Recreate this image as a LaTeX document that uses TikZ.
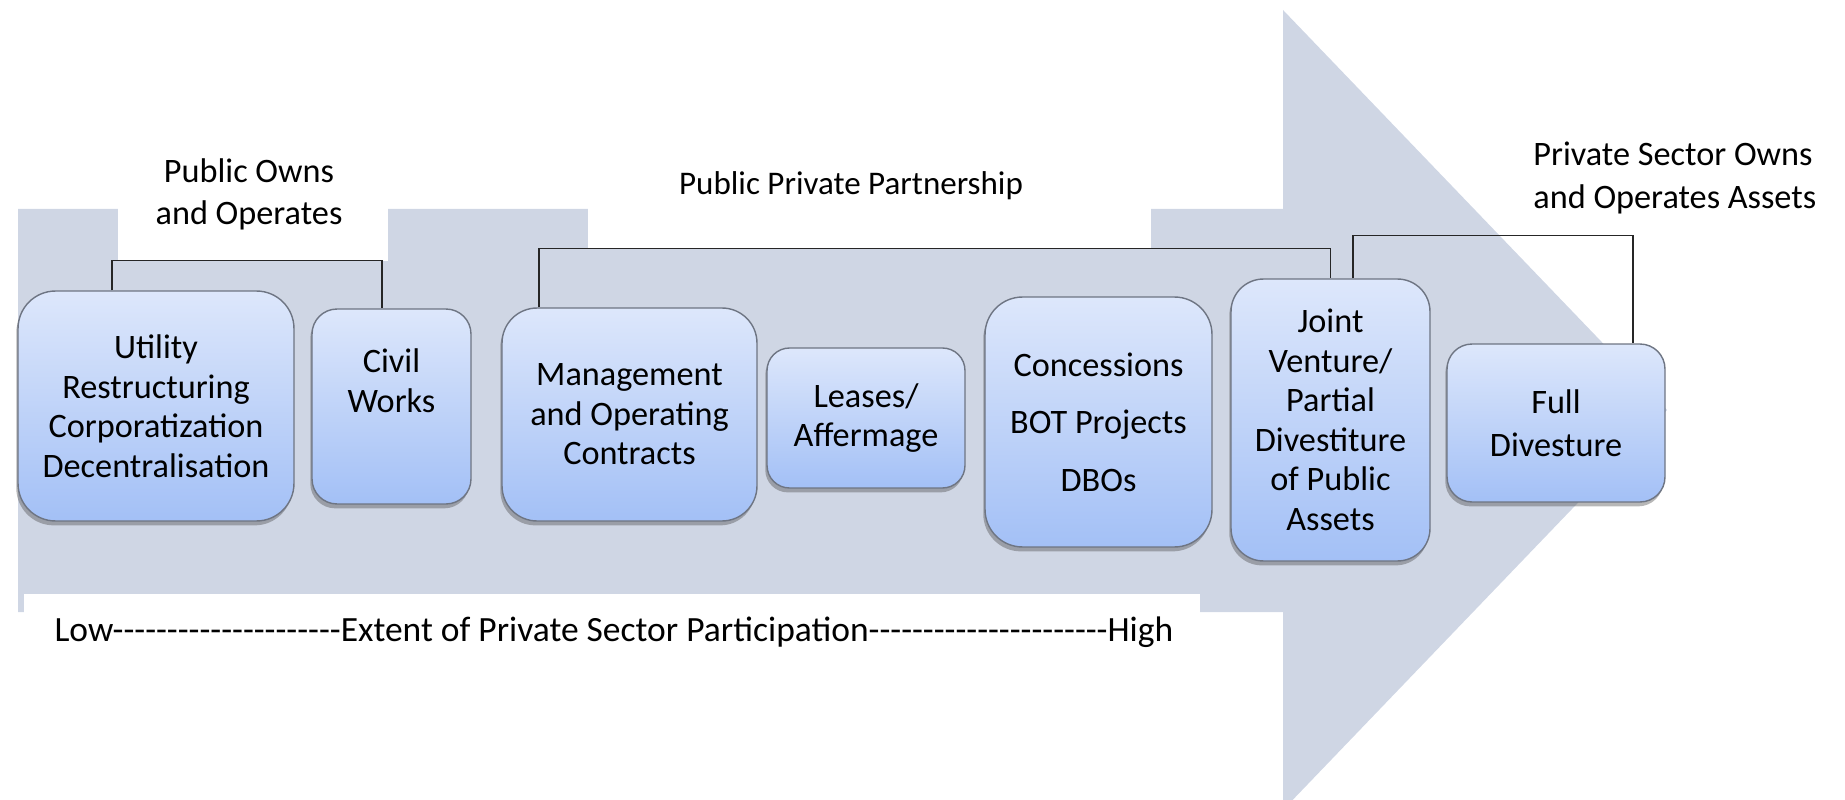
\documentclass[tikz,border=0pt]{standalone}
\usepackage{fontspec}
\setmainfont{Carlito}
\usetikzlibrary{shadows}
\definecolor{shaftgrey}{HTML}{CFD6E4}
\definecolor{boxtop}{HTML}{DDE7FB}
\definecolor{boxbot}{HTML}{A3C0F6}
\definecolor{boxline}{HTML}{6E7583}
\newcommand{\hyrun}[1]{\foreach \i in {1,...,#1}{-{}}}
\begin{document}
\begin{tikzpicture}[x=0.02cm, y=-0.02cm,
    box/.style={draw=boxline, line width=0.8pt, rounded corners=#1, top color=boxtop, bottom color=boxbot,
        align=center, inner sep=0pt, font=\fontsize{19.5}{22.5}\selectfont,
        drop shadow={shadow xshift=-1pt, shadow yshift=-2.5pt, opacity=0.4, fill=black!70}},
    box/.default=0.6cm,
    lbl/.style={inner sep=0pt, align=center, font=\fontsize{19.5}{24}\selectfont},
    link/.style={draw=black!85, line width=0.9pt}]
    \useasboundingbox (0,0) rectangle (1845,800);

    % big arrow with the white cut-outs behind the labels
    \fill[shaftgrey] (18,209) -- (1283,209) -- (1283,10) -- (1667,410) -- (1283,810) -- (1283,612) -- (18,612) -- cycle;
    \fill[white] (118,200) rectangle (388,261);
    \fill[white] (588,200) rectangle (1151,249);
    \fill[white] (24,594) rectangle (1200,662);

    \node[lbl] (pubown) at (249,194) {Public Owns\\and Operates};
    \node[lbl, font=\fontsize{18.8}{24}\selectfont] (ppp) at (851,186) {Public Private Partnership};
    \node[lbl, align=left, anchor=west] (privown) at (1533,178) {Private Sector Owns\\and Operates Assets};
    \node[lbl, font=\fontsize{20.2}{24}\selectfont] (extent) at (614,632) {Low\hyrun{21}Extent of Private Sector Participation\hyrun{22}High};

    \node[box=0.75cm, minimum width=5.52cm, minimum height=4.6cm] (utility) at (156,406) {Utility\\Restructuring\\Corporatization\\Decentralisation};
    \node[box=0.5cm, minimum width=3.18cm, minimum height=3.9cm] (civil) at (391.5,406.5)
        {\raisebox{0.44cm}[\height][\depth]{\begin{tabular}{@{}c@{}}Civil\\Works\end{tabular}}};
    \node[box=0.7cm, minimum width=5.1cm, minimum height=4.26cm] (mgmt) at (629.5,414.5) {Management\\and Operating\\Contracts};
    \node[box=0.45cm, minimum width=3.96cm, minimum height=2.8cm] (lease) at (866,418) {Leases/\\Affermage};
    \node[box=0.75cm, minimum width=4.54cm, minimum height=5cm] (concess) at (1098.5,422) {Concessions\\[0.36cm]BOT Projects\\[0.36cm]DBOs};
    \node[box=0.65cm, minimum width=3.98cm, minimum height=5.64cm] (joint) at (1330.5,420) {Joint\\Venture/\\Partial\\Divestiture\\of Public\\Assets};
    \node[box=0.5cm, minimum width=4.36cm, minimum height=3.16cm] (fulldiv) at (1556,423) {Full\\[2pt]Divesture};

    \draw[link] ([xshift=-0.88cm]utility.north) -- ++(0,-30) -| ([xshift=-0.19cm]civil.north);
    \draw[link] ([xshift=-1.81cm]mgmt.north) -- ++(0,-59) -| (joint.north);
    \draw[link] ([xshift=0.45cm]joint.north) -- ++(0,-43) -| ([xshift=1.54cm]fulldiv.north);
\end{tikzpicture}
\end{document}
